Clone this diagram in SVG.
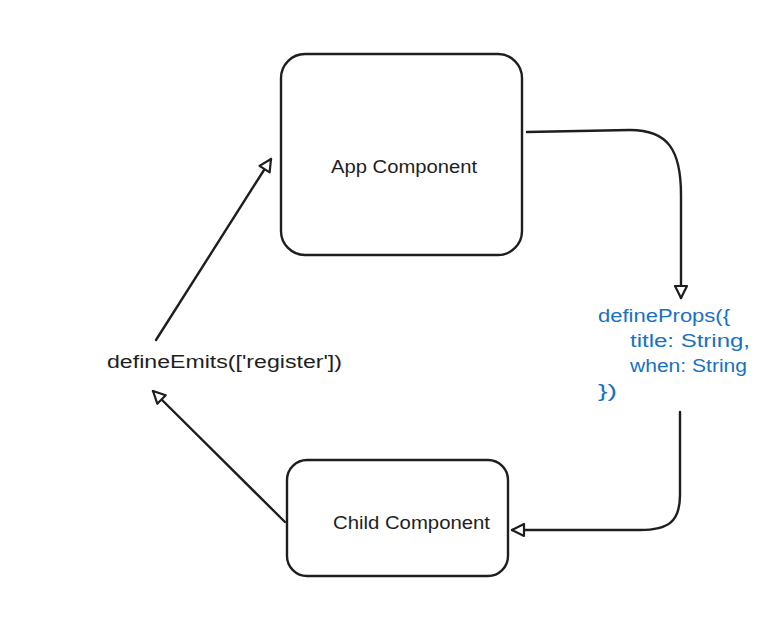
<svg xmlns="http://www.w3.org/2000/svg" width="758" height="628" viewBox="0 0 758 628">
<defs>
<style>
.box{fill:#ffffff;stroke:#1e1e1e;stroke-width:2.4}
.conn{fill:none;stroke:#1e1e1e;stroke-width:2.4;stroke-linecap:round;stroke-linejoin:round}
.lbl{font-family:"Liberation Sans",Arial,sans-serif;font-size:18px;fill:#1e1e1e}
.code{font-family:"Liberation Sans",Arial,sans-serif;font-size:18px;fill:#1971c2}
</style>
<marker id="head" viewBox="0 0 16 16" refX="14" refY="8" markerWidth="16" markerHeight="16" markerUnits="userSpaceOnUse" orient="auto">
<path d="M2,2 L14,8 L2,14 Z" fill="#ffffff" stroke="#1e1e1e" stroke-width="2.2" stroke-linejoin="round"/>
</marker>
</defs>
<rect width="758" height="628" fill="#ffffff"/>
<g id="connectors">
<path class="conn" d="M527,132 L630,130 C668,130 681,150 681,195 L681,298" marker-end="url(#head)"/>
<path class="conn" d="M680,412 L680,495 C680,522 668,530 640,530 L512,530" marker-end="url(#head)"/>
<path class="conn" d="M285,522 L153,391" marker-end="url(#head)"/>
<path class="conn" d="M156,340 L271,159" marker-end="url(#head)"/>
</g>
<g id="app">
<rect class="box" x="281" y="54" width="241" height="201" rx="24"/>
<text class="lbl" x="331" y="173" textLength="146" lengthAdjust="spacingAndGlyphs">App Component</text>
</g>
<g id="child">
<rect class="box" x="287" y="460" width="221" height="116" rx="20"/>
<text class="lbl" x="333" y="529" textLength="157" lengthAdjust="spacingAndGlyphs">Child Component</text>
</g>
<g id="emits">
<text class="lbl" x="107" y="368" textLength="235" lengthAdjust="spacingAndGlyphs">defineEmits(['register'])</text>
</g>
<g id="props">
<text class="code" x="598" y="322" textLength="132" lengthAdjust="spacingAndGlyphs">defineProps({</text>
<text class="code" x="630" y="347" textLength="120" lengthAdjust="spacingAndGlyphs">title: String,</text>
<text class="code" x="630" y="372" textLength="117" lengthAdjust="spacingAndGlyphs">when: String</text>
<text class="code" x="598" y="397" textLength="19" lengthAdjust="spacingAndGlyphs">})</text>
</g>
</svg>
